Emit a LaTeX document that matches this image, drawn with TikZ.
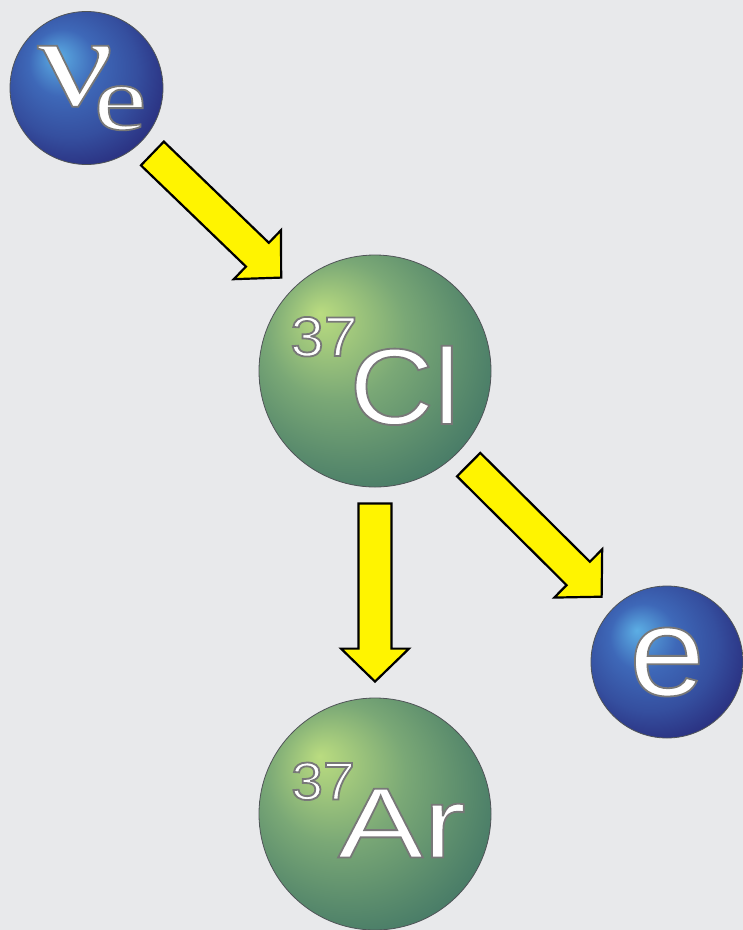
\documentclass[tikz,border=0pt]{standalone}
\usepackage{fontspec}
\usetikzlibrary{calc}

\newfontfamily\symfont[FakeStretch=1.08]{Liberation Sans}
\newfontfamily\greekfont[FakeStretch=1.3]{Liberation Serif}

\definecolor{bgcol}{RGB}{232,233,235}
\definecolor{ringgray}{RGB}{80,84,88}
\definecolor{arrowyellow}{RGB}{255,244,0}
\definecolor{bluelight}{RGB}{92,174,228}
\definecolor{bluemid}{RGB}{62,104,184}
\definecolor{bluedark}{RGB}{42,48,128}
\definecolor{greenlight}{RGB}{186,220,128}
\definecolor{greenmid}{RGB}{122,168,118}
\definecolor{greendark}{RGB}{68,120,102}

\pgfdeclareradialshading{blueball}{\pgfpoint{-10bp}{10.5bp}}{color(0bp)=(bluelight); color(11bp)=(bluemid); color(22bp)=(bluemid!55!bluedark); color(31bp)=(bluedark); color(50bp)=(bluedark)}
\pgfdeclareradialshading{greenball}{\pgfpoint{-12bp}{12.5bp}}{color(0bp)=(greenlight); color(15bp)=(greenmid); color(33bp)=(greendark); color(50bp)=(greendark)}

% white letters with a thin grey rim
\newcommand{\lbl}[1]{\special{pdf:literal direct 0.47 G 2 Tr 1.8 w}{#1}\special{pdf:literal direct 0 Tr 0.4 w}}

% fat yellow arrow between two border points
\newcommand{\blockarrow}[2]{%
  \coordinate (ba-s) at ($(#1)!16pt!(#2)$);
  \coordinate (ba-t) at ($(#2)!16pt!(#1)$);
  \coordinate (ba-b) at ($(ba-t)!33pt!(ba-s)$);
  \draw[fatarrow] ($(ba-s)!16.5pt!90:(ba-t)$) -- ($(ba-b)!16.5pt!-90:(ba-s)$)
    -- ($(ba-b)!34pt!-90:(ba-s)$) -- (ba-t) -- ($(ba-b)!34pt!90:(ba-s)$)
    -- ($(ba-b)!16.5pt!90:(ba-s)$) -- ($(ba-s)!16.5pt!-90:(ba-t)$) -- cycle;}

\begin{document}
\begin{tikzpicture}[x=1pt, y=-1pt,
  ball/.style={circle, draw=ringgray, line width=0.8pt, inner sep=0pt, text=white},
  lepton/.style={ball, shading=blueball, minimum size=153pt},
  nucleus/.style={ball, shading=greenball, minimum size=232pt},
  fatarrow/.style={draw=black, fill=arrowyellow, line width=2.2pt, line join=miter}]
  \fill[bgcol] (0,0) rectangle (743,930);
  \useasboundingbox (0,0) rectangle (743,930);

  \node[lepton] (ve) at (86.5,88) {\lbl{\greekfont\fontsize{130}{130}\selectfont ν}\kern-20pt\raisebox{-24pt}{\lbl{\greekfont\fontsize{92}{92}\selectfont e}}\kern-11pt};
  \node[nucleus] (cl) at (375,371) {\raisebox{68pt}{\lbl{\symfont\fontsize{56}{56}\selectfont 37}}\kern-8pt\lbl{\symfont\fontsize{108}{108}\selectfont Cl}};
  \node[nucleus] (ar) at (375,814) {\raisebox{58pt}{\lbl{\symfont\fontsize{53}{53}\selectfont 37}}\kern-17pt\lbl{\symfont\fontsize{100}{100}\selectfont\addfontfeature{FakeStretch=1.28}Ar}\rule[-8pt]{0pt}{8pt}\kern-7pt};
  \node[lepton, minimum size=152pt] (el) at (667,662) {\lbl{\symfont\fontsize{126}{126}\selectfont e}};

  \blockarrow{ve.-45}{cl.135}
  \blockarrow{cl.south}{ar.north}
  \blockarrow{cl.-45}{el.135}
\end{tikzpicture}
\end{document}
